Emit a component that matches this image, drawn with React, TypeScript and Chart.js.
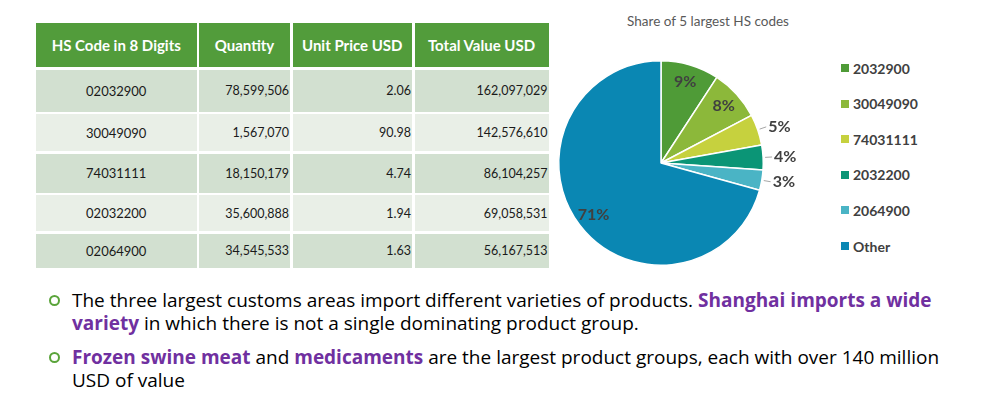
import React, { useEffect, useRef } from "react";
import { Chart, registerables } from "chart.js";

Chart.register(...registerables);

// ---------- data ----------
const tableHeaders = ["HS Code in 8 Digits", "Quantity", "Unit Price USD", "Total Value USD"];
const hsCodes = ["02032900", "30049090", "74031111", "02032200", "02064900"];
const quantities = ["78,599,506", "1,567,070", "18,150,179", "35,600,888", "34,545,533"];
const unitPrices = ["2.06", "90.98", "4.74", "1.94", "1.63"];
const totalValues = ["162,097,029", "142,576,610", "86,104,257", "69,058,531", "56,167,513"];

const pieTitle = "Share of 5 largest HS codes";
const pieLabels = ["2032900", "30049090", "74031111", "2032200", "2064900", "Other"];
const pieValues = [162.1, 142.6, 86.1, 69.1, 56.2, 1246];
const pieColors = ["#4f9b37", "#8cb83a", "#c6d13e", "#0b9576", "#4ab4c5", "#0a87b3"];
const outsideLabel = [false, false, true, true, true, false];

// ---------- layout constants ----------
const colWidths = [160.5, 91, 119.5, 134];
const rowHeights = [44, 42, 37, 39, 36, 34];
const GAP = 2.5;
const TABLE_LEFT = 36;
const TABLE_TOP = 23;
const tableFont = "Lato, 'Open Sans', sans-serif";

const sliceLabelPlugin = {
  id: "sliceLabels",
  afterDatasetsDraw(chart: any) {
    const ctx = chart.ctx;
    const meta = chart.getDatasetMeta(0);
    const data = chart.data.datasets[0].data as number[];
    const total = data.reduce((a, b) => a + b, 0);
    ctx.save();
    ctx.font = "bold 16px Lato, 'Open Sans', sans-serif";
    ctx.fillStyle = "#404040";
    ctx.textBaseline = "middle";
    meta.data.forEach((arc: any, i: number) => {
      const p = arc.getProps(["x", "y", "startAngle", "endAngle", "outerRadius"], true);
      const mid = (p.startAngle + p.endAngle) / 2;
      const dx = Math.cos(mid);
      const dy = Math.sin(mid);
      const pct = Math.round((data[i] / total) * 100) + "%";
      if (!outsideLabel[i]) {
        ctx.textAlign = "center";
        ctx.fillText(pct, p.x + dx * p.outerRadius * 0.83, p.y + dy * p.outerRadius * 0.83);
      } else {
        const ex = p.x + dx * (p.outerRadius + 2);
        const ey = p.y + dy * (p.outerRadius + 2);
        const ax = p.x + dx * (p.outerRadius + 9);
        const ay = p.y + dy * (p.outerRadius + 9);
        ctx.strokeStyle = "#a6a6a6";
        ctx.lineWidth = 1;
        ctx.beginPath();
        ctx.moveTo(ex, ey);
        ctx.lineTo(ax, ay);
        ctx.stroke();
        ctx.textAlign = "left";
        ctx.fillText(pct, ax + 2, ay);
      }
    });
    ctx.restore();
  },
};

function PieChart() {
  const ref = useRef<HTMLCanvasElement | null>(null);
  useEffect(() => {
    if (!ref.current) return;
    const chart = new Chart(ref.current, {
      type: "pie",
      data: {
        labels: pieLabels,
        datasets: [
          {
            data: pieValues,
            backgroundColor: pieColors,
            borderColor: "#ffffff",
            borderWidth: 1.5,
          },
        ],
      },
      options: {
        animation: false,
        responsive: false,
        maintainAspectRatio: false,
        layout: { padding: { left: 17, right: 57, top: 17, bottom: 17 } },
        plugins: {
          legend: { display: false },
          title: { display: false },
          tooltip: { enabled: false },
        },
      },
      plugins: [sliceLabelPlugin],
    });
    return () => chart.destroy();
  }, []);
  return (
    <canvas
      ref={ref}
      width={280}
      height={240}
      style={{ position: "absolute", left: 541, top: 43, width: 280, height: 240 }}
    />
  );
}

function Table() {
  const rows = hsCodes.map((c, i) => [c, quantities[i], unitPrices[i], totalValues[i]]);
  const cells: any[] = [];
  let y = TABLE_TOP;
  const allRows = [tableHeaders, ...rows];
  allRows.forEach((row, ri) => {
    let x = TABLE_LEFT;
    const h = rowHeights[ri];
    row.forEach((text, ci) => {
      const w = colWidths[ci];
      const isHeader = ri === 0;
      const bg = isHeader ? "#529c3b" : ri % 2 === 1 ? "#d2e0d0" : "#e9efe7";
      cells.push(
        <div
          key={ri + "-" + ci}
          style={{
            position: "absolute",
            left: x,
            top: y,
            width: w,
            height: h,
            background: bg,
            display: "flex",
            alignItems: "center",
            justifyContent: isHeader || ci === 0 ? "center" : "flex-end",
            boxSizing: "border-box",
            paddingRight: isHeader || ci === 0 ? 0 : 1,
            fontFamily: tableFont,
            fontSize: isHeader ? 15 : ci === 0 ? 13 : 12.5,
            fontWeight: isHeader ? 700 : 400,
            color: isHeader ? "#ffffff" : "#1a1a1a",
            whiteSpace: "nowrap",
          }}
        >
          {text}
        </div>
      );
      x += w + GAP;
    });
    y += h + GAP;
  });
  return <>{cells}</>;
}

function Legend() {
  return (
    <>
      {pieLabels.map((l, i) => (
        <div
          key={l}
          style={{
            position: "absolute",
            left: 841,
            top: 68 + i * 35.6 - 9,
            height: 18,
            display: "flex",
            alignItems: "center",
            fontFamily: tableFont,
            fontWeight: 700,
            fontSize: 14,
            color: "#404040",
            whiteSpace: "nowrap",
          }}
        >
          <span style={{ display: "inline-block", width: 8, height: 8, background: pieColors[i], marginRight: 4 }} />
          {l}
        </div>
      ))}
    </>
  );
}

const purple = { color: "#7030a0", fontWeight: 700 } as const;

function Bullet({ top, children }: { top: number; children: any }) {
  return (
    <div style={{ position: "absolute", left: 0, top, width: 997 }}>
      <div
        style={{
          position: "absolute",
          left: 49,
          top: 6,
          width: 11,
          height: 11,
          borderRadius: "50%",
          border: "2.5px solid #5aa43a",
          boxSizing: "border-box",
        }}
      />
      <div
        style={{
          position: "absolute",
          left: 72,
          top: 0,
          width: 920,
          fontFamily: "'Open Sans', sans-serif",
          fontSize: 19,
          lineHeight: "22.5px",
          color: "#000000",
          whiteSpace: "nowrap",
        }}
      >
        {children}
      </div>
    </div>
  );
}

export default function App() {
  return (
    <div style={{ position: "fixed", left: 0, top: 0, width: 997, height: 413, background: "#ffffff", overflow: "hidden" }}>
      <Table />
      <div
        style={{
          position: "absolute",
          left: 600,
          top: 13,
          width: 216,
          textAlign: "center",
          fontFamily: tableFont,
          fontSize: 13.5,
          color: "#595959",
          whiteSpace: "nowrap",
        }}
      >
        {pieTitle}
      </div>
      <PieChart />
      <Legend />
      <Bullet top={289}>
        The three largest customs areas import different varieties of products.{" "}
        <span style={purple}>Shanghai imports a wide</span>
        <br />
        <span style={purple}>variety</span> in which there is not a single dominating product group.
      </Bullet>
      <Bullet top={346}>
        <span style={purple}>Frozen swine meat</span> and <span style={purple}>medicaments</span> are the largest product groups, each with over 140 million
        <br />
        USD of value
      </Bullet>
    </div>
  );
}
